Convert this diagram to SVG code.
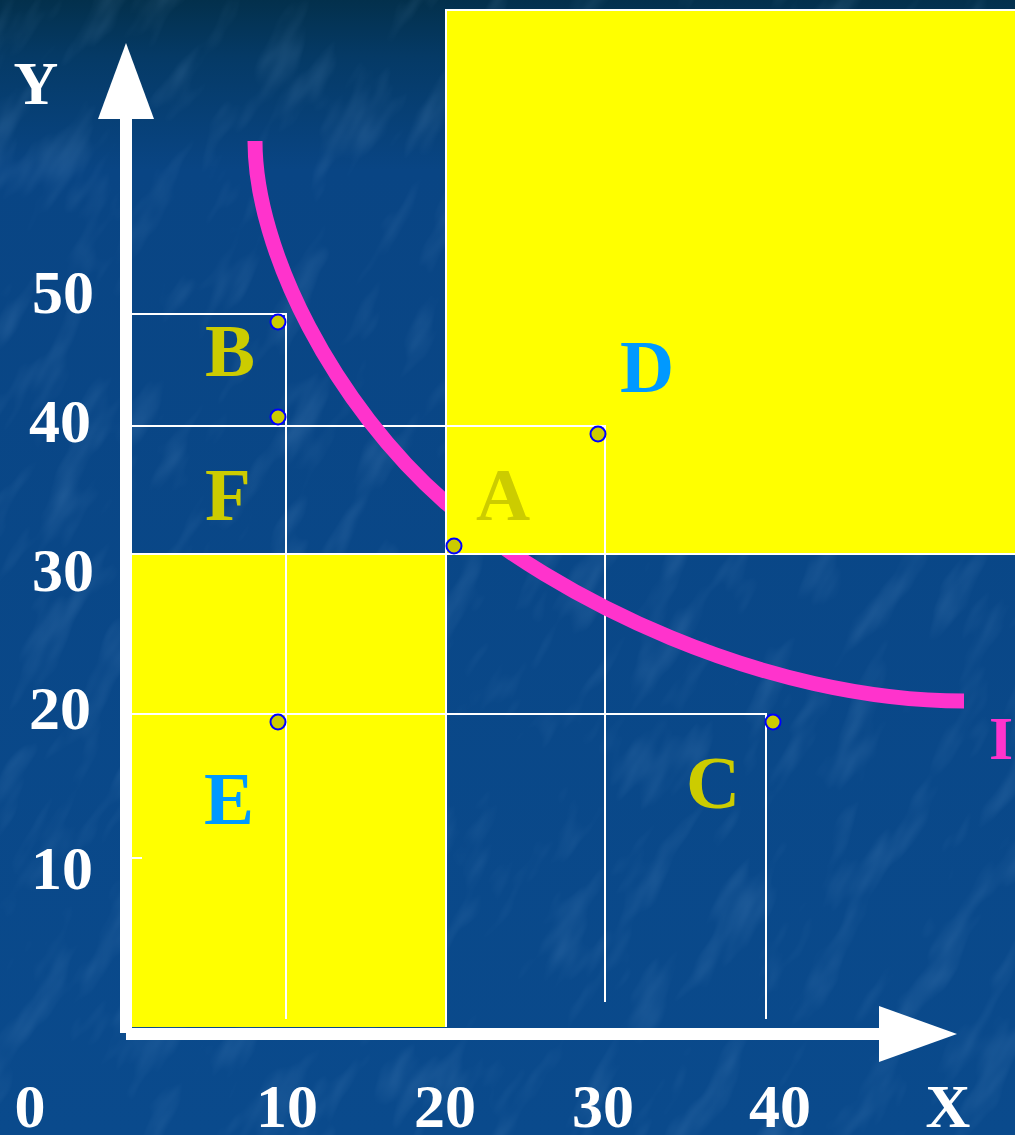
<svg xmlns="http://www.w3.org/2000/svg" width="1015" height="1135" viewBox="0 0 1015 1135">
<defs>
<linearGradient id="bg" x1="0" y1="0" x2="0" y2="1">
<stop offset="0" stop-color="#03304c"/>
<stop offset="0.05" stop-color="#053a66"/>
<stop offset="0.15" stop-color="#094584"/>
<stop offset="1" stop-color="#0a4a8c"/>
</linearGradient>
<filter id="tex" x="0" y="0" width="100%" height="100%">
<feTurbulence type="fractalNoise" baseFrequency="0.03 0.01" numOctaves="3" seed="11"/>
<feColorMatrix type="matrix" values="0 0 0 0 0.35  0 0 0 0 0.6  0 0 0 0 0.9  0 0 0 1.5 -0.8"/>
</filter>
<style>
.grid{stroke:#ffffff;stroke-width:2;fill:none}
.axis{fill:#ffffff}
.lab{font-family:"Liberation Serif","Times New Roman",serif;font-weight:bold;font-size:62px;fill:#ffffff;text-anchor:middle}
.reg{font-family:"Liberation Serif","Times New Roman",serif;font-weight:bold;font-size:75px;text-anchor:middle}
.olive{fill:#cccc00}
.sky{fill:#0099ff}
.pt{fill:#cccc00;stroke:#0000ff;stroke-width:2}
.yel{fill:#ffff00}
</style>
</defs>
<rect width="1015" height="1135" fill="url(#bg)"/>
<g transform="rotate(30 507 567)" opacity="0.25">
<rect x="-400" y="-400" width="1815" height="1935" filter="url(#tex)"/>
</g>

<rect id="regionE" class="yel" x="132" y="554" width="314" height="473"/>

<g id="connectors">
<line class="grid" x1="132" y1="314" x2="287" y2="314"/>
<line class="grid" x1="286" y1="313" x2="286" y2="1019"/>
<line class="grid" x1="132" y1="426" x2="446" y2="426"/>
<line class="grid" x1="605" y1="553" x2="605" y2="1002"/>
<line class="grid" x1="132" y1="714" x2="767" y2="714"/>
<line class="grid" x1="766" y1="713" x2="766" y2="1019"/>
<line class="grid" x1="446" y1="553" x2="446" y2="1027"/>
<line class="grid" x1="132" y1="858" x2="142" y2="858"/>
</g>

<path id="curveI" d="M255,141 C255,251 335,405.3 445,502 C555,598.7 764,701 964,701" fill="none" stroke="#ff33cc" stroke-width="15" stroke-linecap="butt"/>

<rect id="regionD" class="yel" x="446" y="10" width="575" height="544" stroke="#ffffff" stroke-width="2"/>
<g id="connectors-over">
<line class="grid" x1="446" y1="426" x2="606" y2="426"/>
<line class="grid" x1="605" y1="425" x2="605" y2="554"/>
<line class="grid" x1="132" y1="554" x2="1015" y2="554"/>
</g>

<g id="axes">
<rect class="axis" x="120" y="118" width="12" height="915"/>
<polygon class="axis" points="126,43 98,119 154,119"/>
<rect class="axis" x="126" y="1028" width="754" height="12"/>
<polygon class="axis" points="879,1006 957,1034 879,1062"/>
</g>

<g id="nodeB"><circle class="pt" cx="278" cy="322" r="7.5"/><text class="reg olive" x="230" y="376">B</text></g>
<g id="nodeF"><circle class="pt" cx="278" cy="417" r="7.5"/><text class="reg olive" x="228" y="520">F</text></g>
<g id="nodeA"><circle class="pt" cx="454" cy="546" r="7.5"/><text class="reg olive" x="503" y="520">A</text></g>
<g id="nodeD"><circle class="pt" cx="598" cy="434" r="7.5"/><text class="reg sky" x="647" y="392">D</text></g>
<g id="nodeC"><circle class="pt" cx="773" cy="722" r="7.5"/><text class="reg olive" x="713" y="808">C</text></g>
<g id="nodeE"><circle class="pt" cx="278" cy="722" r="7.5"/><text class="reg sky" x="229" y="824">E</text></g>
<g id="labelI"><text class="lab" x="1001" y="759" style="fill:#ff33cc">I</text></g>

<g id="axis-labels">
<text class="lab" x="36" y="104">Y</text>
<text class="lab" x="63" y="313">50</text>
<text class="lab" x="60" y="442">40</text>
<text class="lab" x="63" y="591">30</text>
<text class="lab" x="60" y="729">20</text>
<text class="lab" x="62" y="889">10</text>
<text class="lab" x="30" y="1127">0</text>
<text class="lab" x="287" y="1127">10</text>
<text class="lab" x="445" y="1127">20</text>
<text class="lab" x="603" y="1127">30</text>
<text class="lab" x="780" y="1127">40</text>
<text class="lab" x="948" y="1127">X</text>
</g>
</svg>
